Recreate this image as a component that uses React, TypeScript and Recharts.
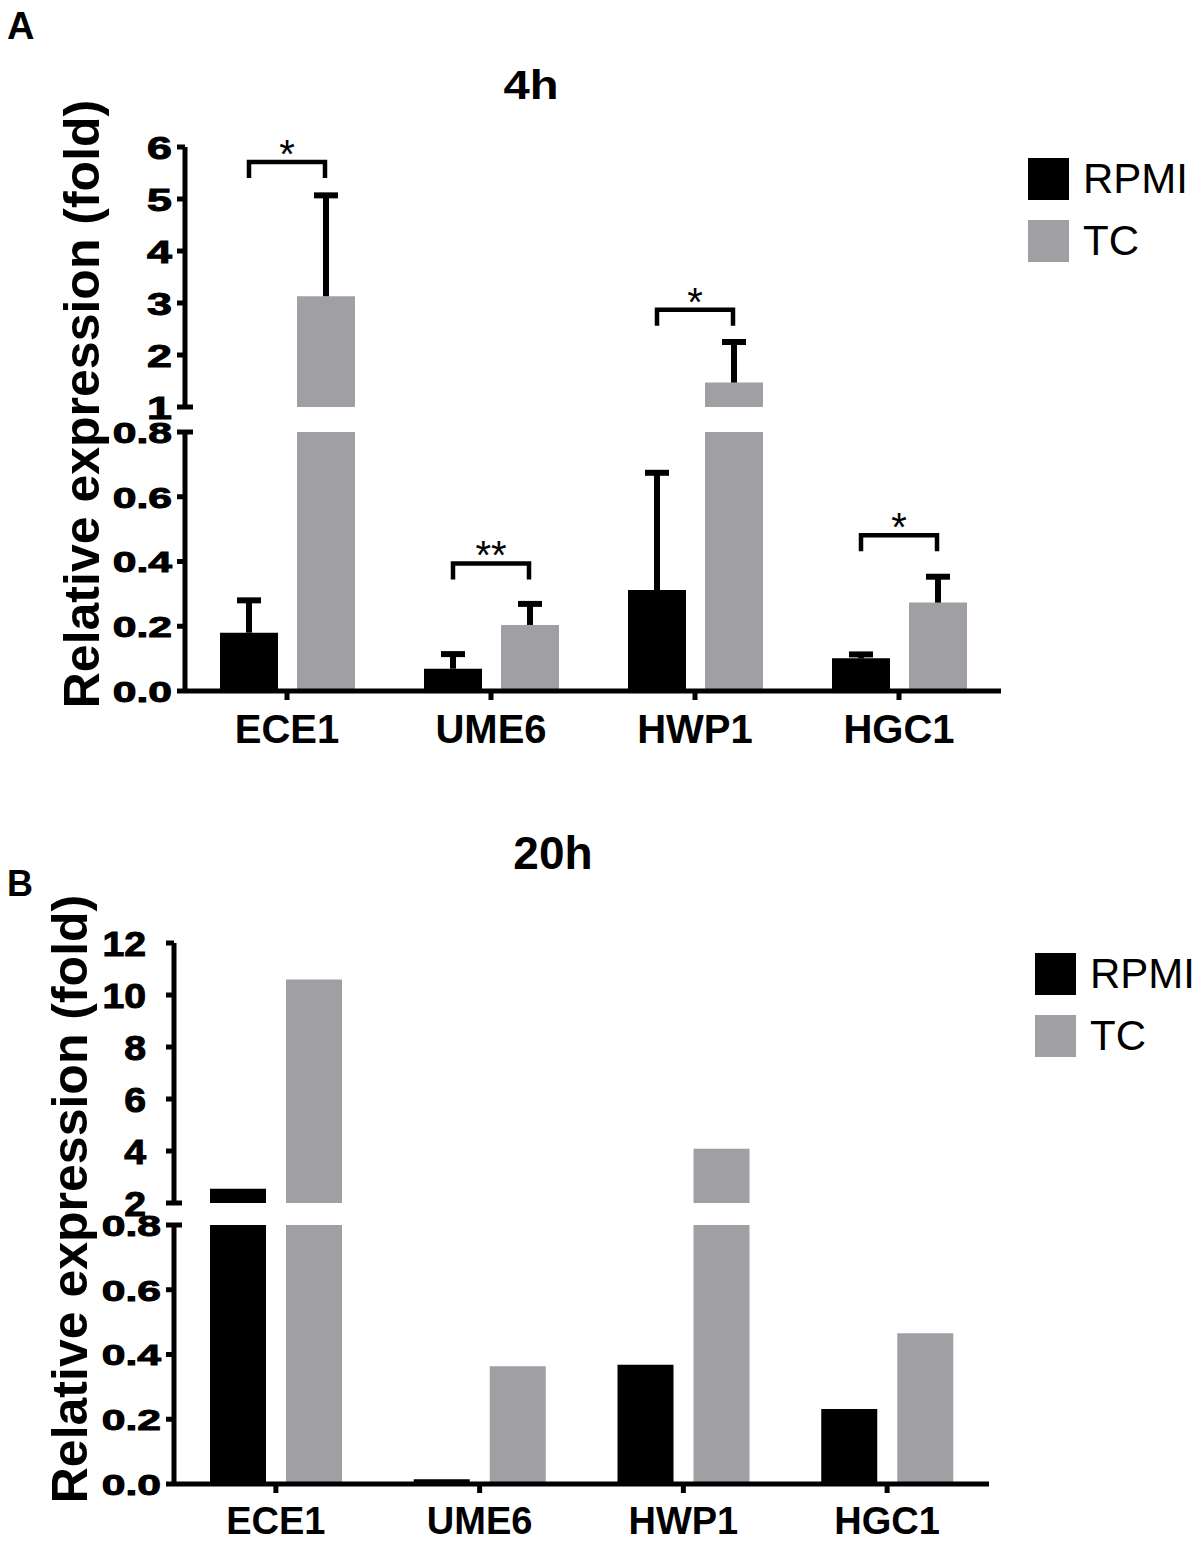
import React from 'react';
import { ComposedChart, Bar, XAxis, YAxis, ErrorBar, Scatter } from 'recharts';

const FONT = '"Liberation Sans", Arial, Helvetica, sans-serif';
const BLACK = '#000000';
const GRAY = '#A0A0A4';

// categories and series
const genes = ['ECE1', 'UME6', 'HWP1', 'HGC1'];
const seriesNames = ['RPMI', 'TC'];
const seriesColors = [BLACK, GRAY];

// Panel A (4h): means and upper SD
const a4hRpmi = [0.18, 0.069, 0.312, 0.101];
const a4hRpmiErr = [0.1, 0.045, 0.362, 0.012];
const a4hTc = [3.13, 0.204, 1.47, 0.273];
const a4hTcErr = [1.94, 0.065, 0.78, 0.08];
// significance brackets (panel A)
const a4hSigGenes = ['ECE1', 'UME6', 'HWP1', 'HGC1'];
const a4hSigLevels = [5.71, 0.394, 2.87, 0.481];
const a4hSigMarks = ['*', '**', '*', '*'];
// axis segments (panel A)
const a4hUpperDomain = [1, 6];
const a4hUpperTicks = [1, 2, 3, 4, 5, 6];
const a4hLowerDomain = [0, 0.8];
const a4hLowerTicks = [0, 0.2, 0.4, 0.6, 0.8];

// Panel B (20h)
const b20hRpmi = [2.55, 0.015, 0.368, 0.232];
const b20hTc = [10.6, 0.364, 4.09, 0.466];
const b20hUpperDomain = [2, 12];
const b20hUpperTicks = [2, 4, 6, 8, 10, 12];
const b20hLowerDomain = [0, 0.8];
const b20hLowerTicks = [0, 0.2, 0.4, 0.6, 0.8];

type Row = { gene: string; rpmi: number | null; tc: number | null; rpmiErr: number[] | null; tcErr: number[] | null };

function buildRows(
  rpmi: number[],
  tc: number[],
  rpmiErr: number[] | null,
  tcErr: number[] | null,
  domain: number[],
  part: 'upper' | 'lower'
): Row[] {
  return genes.map((g, i) => {
    const show = (v: number) => (part === 'upper' ? v > domain[0] : true);
    const errOk = (v: number) => (part === 'upper' ? v > domain[0] : v <= domain[1]);
    return {
      gene: g,
      rpmi: show(rpmi[i]) ? rpmi[i] : null,
      tc: show(tc[i]) ? tc[i] : null,
      rpmiErr: rpmiErr && errOk(rpmi[i]) ? [0, rpmiErr[i]] : null,
      tcErr: tcErr && errOk(tc[i]) ? [0, tcErr[i]] : null,
    };
  });
}

function buildSig(domain: number[], part: 'upper' | 'lower') {
  return a4hSigGenes
    .map((g, i) => ({ gene: g, level: a4hSigLevels[i], mark: a4hSigMarks[i] }))
    .filter((s) => (part === 'upper' ? s.level > domain[0] : s.level <= domain[1]));
}

const TICK = 8;

const makeYTick = (opts: { margin: number; breakTick: number; fmt: (v: number) => string; fs: number; sx: number }) =>
  (props: any) => {
    const { x, y, payload } = props;
    const v = payload.value;
    const axisX = x + TICK + opts.margin;
    return (
      <g>
        {v === opts.breakTick && (
          <line x1={axisX} x2={axisX + 8} y1={y} y2={y} stroke={BLACK} strokeWidth={5} />
        )}
        <text
          transform={`translate(${x},${y}) scale(${opts.sx},1)`}
          textAnchor="end"
          dy="0.36em"
          fontSize={opts.fs}
          fontWeight="bold"
          fontFamily={FONT}
          fill={BLACK}
          stroke={BLACK}
          strokeWidth={1}
        >
          {opts.fmt(v)}
        </text>
      </g>
    );
  };

const renderBracket = (props: any) => {
  const { cx, cy, payload } = props;
  if (cx == null || cy == null) return <g />;
  const hw = 38;
  const leg = 16;
  return (
    <g>
      <path
        d={`M${cx - hw},${cy + leg} V${cy} H${cx + hw} V${cy + leg}`}
        stroke={BLACK}
        strokeWidth={4.5}
        fill="none"
      />
      <text x={cx} y={cy + 6} textAnchor="middle" fontSize={40} fontFamily={FONT} fill={BLACK}>
        {payload.mark}
      </text>
    </g>
  );
};

type SegProps = {
  top: number;
  width: number;
  height: number;
  margin: { top: number; right: number; bottom: number; left: number };
  yWidth: number;
  rows: Row[];
  sig: any[];
  domain: number[];
  ticks: number[];
  breakTick: number;
  clip: boolean;
  showX: boolean;
  tickMargin: number;
  fmt: (v: number) => string;
  tickFont: number;
  sx: number;
  barSize: number;
  barGap: number;
  xFont: number;
  xMargin: number;
  withErr: boolean;
};

function Segment(p: SegProps) {
  return (
    <div style={{ position: 'absolute', left: 0, top: p.top }}>
      <ComposedChart width={p.width} height={p.height} data={p.rows} margin={p.margin} barGap={p.barGap}>
        <XAxis
          dataKey="gene"
          type="category"
          allowDuplicatedCategory={false}
          hide={!p.showX}
          height={60}
          axisLine={{ stroke: BLACK, strokeWidth: 5 }}
          tickLine={{ stroke: BLACK, strokeWidth: 5 }}
          tickSize={9}
          tickMargin={p.xMargin}
          tick={{ fontSize: p.xFont, fontWeight: 'bold', fill: BLACK, fontFamily: FONT }}
          interval={0}
        />
        <YAxis
          type="number"
          domain={p.domain}
          ticks={p.ticks}
          interval={0}
          allowDataOverflow={p.clip}
          width={p.yWidth}
          tickSize={TICK}
          tickMargin={p.tickMargin}
          axisLine={{ stroke: BLACK, strokeWidth: 5 }}
          tickLine={{ stroke: BLACK, strokeWidth: 5 }}
          tick={makeYTick({ margin: p.tickMargin, breakTick: p.breakTick, fmt: p.fmt, fs: p.tickFont, sx: p.sx })}
        />
        <Bar dataKey="rpmi" name={seriesNames[0]} fill={seriesColors[0]} barSize={p.barSize} isAnimationActive={false}>
          {p.withErr && (
            <ErrorBar dataKey="rpmiErr" direction="y" width={12} stroke={BLACK} strokeWidth={6} isAnimationActive={false} />
          )}
        </Bar>
        <Bar dataKey="tc" name={seriesNames[1]} fill={seriesColors[1]} barSize={p.barSize} isAnimationActive={false}>
          {p.withErr && (
            <ErrorBar dataKey="tcErr" direction="y" width={12} stroke={BLACK} strokeWidth={6} isAnimationActive={false} />
          )}
        </Bar>
        {p.sig.length > 0 && (
          <Scatter data={p.sig} dataKey="level" shape={renderBracket} isAnimationActive={false} legendType="none" />
        )}
      </ComposedChart>
    </div>
  );
}

const fmtInt = (v: number) => String(v);
const fmt1 = (v: number) => v.toFixed(1);

function Legend({ x, y, textX }: { x: number; y: number; textX: number }) {
  return (
    <g>
      {seriesNames.map((n, i) => (
        <g key={n}>
          <rect x={x} y={y + i * 62} width={41} height={42} fill={seriesColors[i]} />
          <text x={textX} y={y + 35 + i * 62} fontSize={42} fontFamily={FONT} fill={BLACK}>
            {n}
          </text>
        </g>
      ))}
    </g>
  );
}

export default function App() {
  const aUpperRows = buildRows(a4hRpmi, a4hTc, a4hRpmiErr, a4hTcErr, a4hUpperDomain, 'upper');
  const aLowerRows = buildRows(a4hRpmi, a4hTc, a4hRpmiErr, a4hTcErr, a4hLowerDomain, 'lower');
  const bUpperRows = buildRows(b20hRpmi, b20hTc, null, null, b20hUpperDomain, 'upper');
  const bLowerRows = buildRows(b20hRpmi, b20hTc, null, null, b20hLowerDomain, 'lower');

  return (
    <div style={{ position: 'relative', width: 1201, height: 1544, background: '#fff', fontFamily: FONT }}>
      <style>{'body{margin:0} .recharts-errorBar line:nth-of-type(3){display:none}'}</style>

      {/* Panel A */}
      <Segment
        top={0}
        width={1001}
        height={432}
        margin={{ top: 147, right: 0, bottom: 25, left: 0 }}
        yWidth={185}
        rows={aUpperRows}
        sig={buildSig(a4hUpperDomain, 'upper')}
        domain={a4hUpperDomain}
        ticks={a4hUpperTicks}
        breakTick={a4hUpperDomain[0]}
        clip={false}
        showX={false}
        tickMargin={5}
        fmt={fmtInt}
        tickFont={32}
        sx={1.4}
        barSize={58}
        barGap={19}
        xFont={40}
        xMargin={15}
        withErr={true}
      />
      <Segment
        top={407}
        width={1001}
        height={344}
        margin={{ top: 25, right: 0, bottom: 0, left: 0 }}
        yWidth={185}
        rows={aLowerRows}
        sig={buildSig(a4hLowerDomain, 'lower')}
        domain={a4hLowerDomain}
        ticks={a4hLowerTicks}
        breakTick={a4hLowerDomain[1]}
        clip={true}
        showX={true}
        tickMargin={5}
        fmt={fmt1}
        tickFont={30}
        sx={1.42}
        barSize={58}
        barGap={19}
        xFont={40}
        xMargin={15}
        withErr={true}
      />

      {/* Panel B */}
      <Segment
        top={903}
        width={989}
        height={325}
        margin={{ top: 40, right: 0, bottom: 25, left: 0 }}
        yWidth={174}
        rows={bUpperRows}
        sig={[]}
        domain={b20hUpperDomain}
        ticks={b20hUpperTicks}
        breakTick={b20hUpperDomain[0]}
        clip={false}
        showX={false}
        tickMargin={20}
        fmt={fmtInt}
        tickFont={35}
        sx={1.12}
        barSize={56}
        barGap={20}
        xFont={38}
        xMargin={14}
        withErr={false}
      />
      <Segment
        top={1200}
        width={989}
        height={344}
        margin={{ top: 25, right: 0, bottom: 0, left: 0 }}
        yWidth={174}
        rows={bLowerRows}
        sig={[]}
        domain={b20hLowerDomain}
        ticks={b20hLowerTicks}
        breakTick={b20hLowerDomain[1]}
        clip={true}
        showX={true}
        tickMargin={5}
        fmt={fmt1}
        tickFont={30}
        sx={1.42}
        barSize={56}
        barGap={20}
        xFont={38}
        xMargin={14}
        withErr={false}
      />

      {/* titles, panel letters, axis titles, legends */}
      <svg
        width={1201}
        height={1544}
        style={{ position: 'absolute', left: 0, top: 0, pointerEvents: 'none' }}
      >
        <text x={7} y={39} fontSize={38} fontWeight="bold" fontFamily={FONT} fill={BLACK}>A</text>
        <text x={7} y={896} fontSize={36} fontWeight="bold" fontFamily={FONT} fill={BLACK}>B</text>
        <text
          transform="translate(531,99) scale(1.15,1)"
          textAnchor="middle"
          fontSize={41}
          fontWeight="bold"
          fontFamily={FONT}
          fill={BLACK}
        >
          4h
        </text>
        <text x={553} y={869} textAnchor="middle" fontSize={46} fontWeight="bold" fontFamily={FONT} fill={BLACK}>20h</text>
        <text
          transform="translate(98.5,404) rotate(-90)"
          textAnchor="middle"
          fontSize={50}
          fontWeight="bold"
          fontFamily={FONT}
          fill={BLACK}
        >
          Relative expression (fold)
        </text>
        <text
          transform="translate(86.5,1199) rotate(-90)"
          textAnchor="middle"
          fontSize={50}
          fontWeight="bold"
          fontFamily={FONT}
          fill={BLACK}
        >
          Relative expression (fold)
        </text>
        <Legend x={1028} y={158} textX={1083} />
        <Legend x={1035} y={953} textX={1090} />
      </svg>
    </div>
  );
}
